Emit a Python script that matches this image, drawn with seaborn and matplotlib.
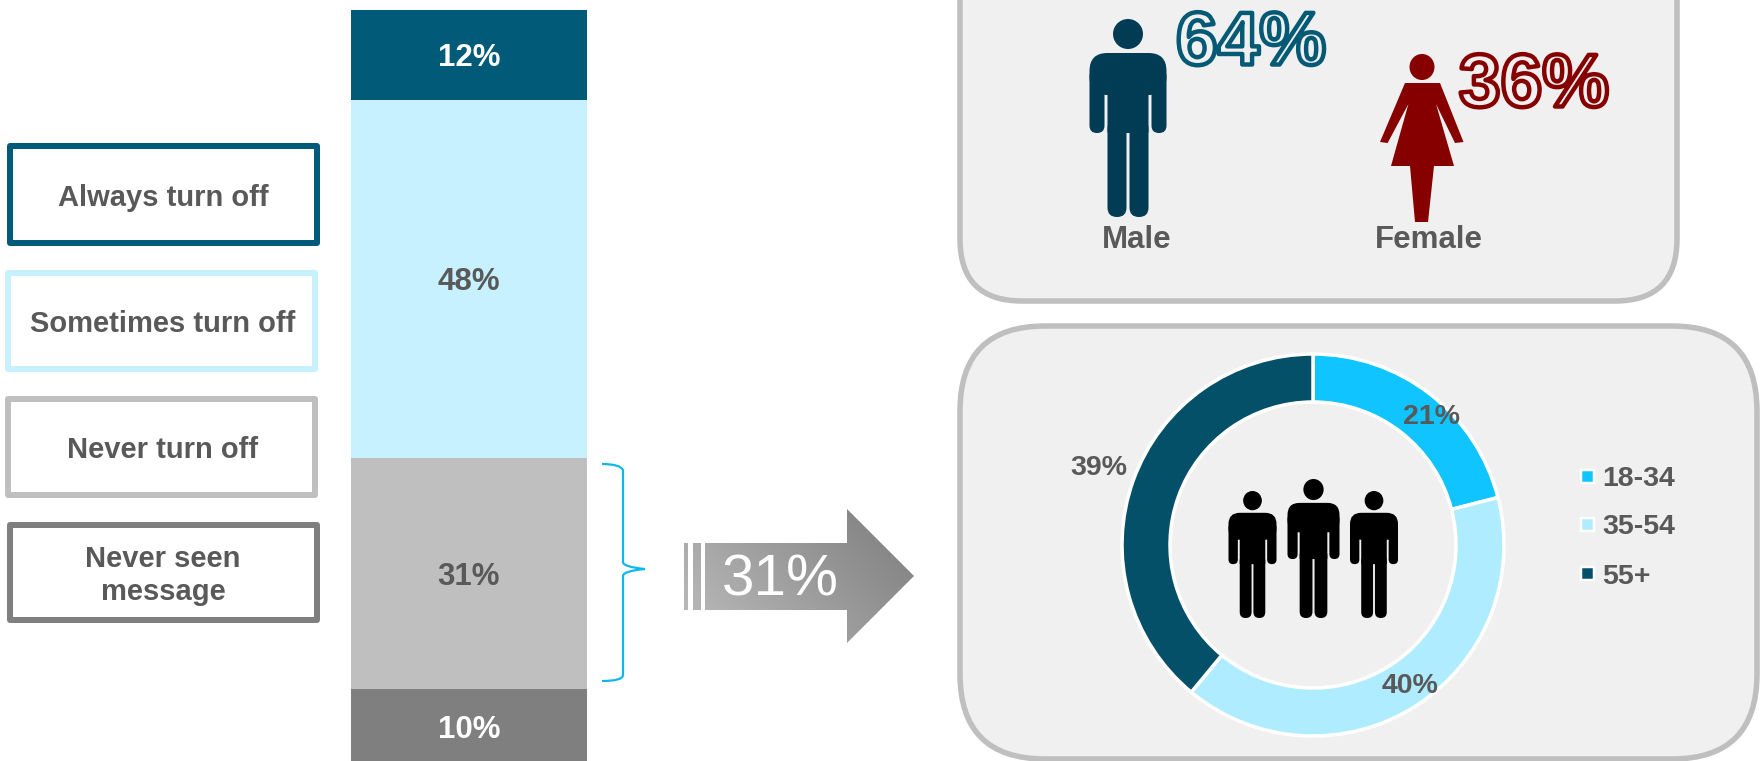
import numpy as np
import matplotlib
matplotlib.use("Agg")
import matplotlib.pyplot as plt
import seaborn as sns
from matplotlib.colors import LinearSegmentedColormap
from matplotlib.patches import Ellipse, FancyBboxPatch, PathPatch, Polygon, Rectangle
from matplotlib.path import Path
import matplotlib.patheffects as pe

# stacked bar
answers = ["Always turn off", "Sometimes turn off", "Never turn off", "Never seen\nmessage"]
answer_vals = [12, 48, 31, 10]
answer_cols = ["#005A78", "#C7F1FF", "#BFBFBF", "#7F7F7F"]
answer_txt = ["white", "#595959", "#595959", "white"]

# gender
gender_labels = ["Male", "Female"]
gender_vals = [64, 36]

# age donut
age_labels = ["18-34", "35-54", "55+"]
age_vals = [21, 40, 39]
age_cols = ["#0FC4FF", "#B0ECFF", "#045069"]

callout_val = 31

GREY = "#595959"
W, H = 1761, 761
PX = 72 / 100  # points per pixel at dpi 100

sns.set_theme(style="white")
plt.rcParams["font.family"] = ["Liberation Sans", "DejaVu Sans"]

fig = plt.figure(figsize=(W / 100, H / 100), dpi=100, facecolor="white")


def px_axes(x0, y0, x1, y1, z):
    # axes placed by its pixel box, y measured from the top
    return fig.add_axes([x0 / W, 1 - y1 / H, (x1 - x0) / W, (y1 - y0) / H], zorder=z)


bg = px_axes(0, 0, W, H, 0)
fg = px_axes(0, 0, W, H, 5)
for a in (bg, fg):
    a.set_xlim(0, W)
    a.set_ylim(H, 0)
    a.axis("off")
fg.patch.set_alpha(0)


def rbox(ax, x0, y0, x1, y1, r, **kw):
    p = FancyBboxPatch((x0 + r, y0 + r), x1 - x0 - 2 * r, y1 - y0 - 2 * r,
                       boxstyle=f"round,pad={r},rounding_size={r}", **kw)
    ax.add_patch(p)
    return p


def man(ax, cx, top, bottom, width, col):
    # stick figure, drawn on a 77x198 unit grid
    sx = width / 77.
    sy = (bottom - top) / 198.

    def part(x0, y0, x1, y1, r):
        rbox(ax, cx + x0 * sx, top + y0 * sy, cx + x1 * sx, top + y1 * sy, r * sx, fc=col, lw=0)

    ax.add_patch(Ellipse((cx, top + 15 * sy), 30 * sx, 30 * sy, fc=col, lw=0))
    part(-38.5, 34, 38.5, 76, 18)
    part(-38.5, 50, -23.5, 114, 7.4)
    part(23.5, 50, 38.5, 114, 7.4)
    part(-20.5, 40, 20.5, 114, 1)
    part(-20.5, 100, -1.5, 198, 9.4)
    part(1.5, 100, 20.5, 198, 9.4)


def woman(ax, cx, top, bottom, col):
    ax.add_patch(Ellipse((cx, top + 13), 25, 26, fc=col, lw=0))
    y = top
    ax.add_patch(Polygon([(cx - 17, y + 29), (cx + 18, y + 29), (cx + 41.5, y + 88), (cx + 33, y + 89),
                          (cx + 14, y + 50), (cx + 32, y + 112), (cx - 31, y + 112), (cx - 13.6, y + 50),
                          (cx - 34.4, y + 89), (cx - 42, y + 88)], fc=col, lw=0))
    ax.add_patch(Polygon([(cx - 12, y + 112), (cx + 12, y + 112), (cx + 6, bottom), (cx - 7, bottom)],
                         fc=col, lw=0))


# left legend boxes
box_y = [(143, 246), (270, 372), (396, 498), (522, 623)]
box_x = [(10, 317), (8, 315), (8, 315), (10, 317)]
for name, col, ys, xs in zip(answers, answer_cols, box_y, box_x):
    bg.add_patch(Rectangle((xs[0], ys[0] + 3), xs[1] - xs[0], ys[1] - ys[0] - 6, fc="white", ec=col,
                           lw=6 * PX, joinstyle="round"))
    fg.text(163, (ys[0] + ys[1]) / 2 + 3, name, ha="center", va="center", fontsize=21,
            fontweight="bold", color=GREY, linespacing=1.24)

# stacked bar, tallest cumulative first so the shorter ones sit on top
bar_ax = px_axes(351, 10, 587, 764, 1)
tops = np.cumsum(answer_vals)
for top_val, col in list(zip(tops, answer_cols))[::-1]:
    sns.barplot(x=[0], y=[top_val], color=col, saturation=1, width=1, linewidth=0, ax=bar_ax)
bar_ax.set_xlim(-0.5, 0.5)
bar_ax.set_ylim(tops[-1], 0)
bar_ax.axis("off")
for v, t, c in zip(answer_vals, tops, answer_txt):
    bar_ax.annotate(f"{v}%", (0, t - v / 2), xytext=(0, -2.6), textcoords="offset points", ha="center", va="center",
                    fontsize=22.5, fontweight="bold", color=c)

# brace
brace = Path([(602, 464), (620, 464), (623, 470), (623, 562), (623, 567), (645, 569),
              (623, 571), (623, 576), (623, 675), (623, 681), (602, 681)],
             [Path.MOVETO, Path.CURVE3, Path.CURVE3, Path.LINETO, Path.CURVE3, Path.CURVE3,
              Path.CURVE3, Path.CURVE3, Path.LINETO, Path.CURVE3, Path.CURVE3])
bg.add_patch(PathPatch(brace, fc="none", ec="#0DB7ED", lw=2.2 * PX))

# gradient arrow with stripes
arrow = Path([(705, 543), (847, 543), (847, 509), (914, 576), (847, 643), (847, 610), (705, 610), (705, 543)], closed=True)
st1 = Path([(684, 543), (688, 543), (688, 610), (684, 610), (684, 543)], closed=True)
st2 = Path([(693, 543), (701, 543), (701, 610), (693, 610), (693, 543)], closed=True)
shape = PathPatch(Path.make_compound_path(arrow, st1, st2), transform=bg.transData, fc="none", lw=0)
bg.add_patch(shape)
gx, gy = np.meshgrid(np.linspace(0, 1, 120), np.linspace(0, 1, 80))
grad = (gx + (1 - gy) * 0.55) / 1.55
cmap = LinearSegmentedColormap.from_list("arr", ["#BDBDBD", "#7C7C7C"])
im = bg.imshow(grad, extent=(684, 914, 643, 509), cmap=cmap, aspect="auto", zorder=1)
im.set_clip_path(shape)
bg.set_xlim(0, W)
bg.set_ylim(H, 0)
fg.text(780, 580, f"{callout_val}%", ha="center", va="center", fontsize=42, color="white")

# panels
rbox(bg, 960, -70, 1677, 301, 62, fc="#F0F0F0", ec="#BFBFBF", lw=5.5 * PX)
rbox(bg, 960, 326, 1757, 759, 85, fc="#F0F0F0", ec="#BFBFBF", lw=5.5 * PX)

# gender panel
man(fg, 1128, 19, 217, 77, "#023B54")
woman(fg, 1422, 54, 222, "#860000")
fg.text(1137, 240.5, gender_labels[0], ha="center", va="center", fontsize=22.5, fontweight="bold", color=GREY)
fg.text(1429, 240.5, gender_labels[1], ha="center", va="center", fontsize=22.5, fontweight="bold", color=GREY)
for v, (x, y), c in zip(gender_vals, [(1251, 45), (1534, 87)], ["#045A75", "#860000"]):
    fg.text(x, y, f"{v}%", ha="center", va="center", fontsize=54, color="#F0F0F0", fontweight="bold",
            path_effects=[pe.Stroke(linewidth=3.2, foreground=c)])

# donut
cx, cy, r = 1313, 545, 191
pie_ax = px_axes(cx - r, cy - r, cx + r, cy + r, 2)
pie_ax.pie(age_vals, colors=age_cols, startangle=90, counterclock=False, radius=1,
           wedgeprops=dict(width=48 / r, edgecolor="white", linewidth=3.5 * PX))
pie_ax.set_xlim(-1, 1)
pie_ax.set_ylim(-1, 1)
pie_ax.patch.set_alpha(0)

for v, (x, y) in zip(age_vals, [(1432, 417), (1410, 686), (1099, 468)]):
    fg.text(x, y, f"{v}%", ha="center", va="center", fontsize=20.5, fontweight="bold", color=GREY)

# three people in the hole
man(fg, 1252.5, 491, 618, 48, "black")
man(fg, 1313.5, 479, 618, 52, "black")
man(fg, 1374, 491, 618, 48, "black")

# age legend
for name, col, y in zip(age_labels, age_cols, [477, 525, 574]):
    fg.add_patch(Rectangle((1581, y - 7), 13, 13, fc=col, ec="white", lw=2.5 * PX))
    fg.text(1602, y + 2.5, name, ha="left", va="center", fontsize=20.5, fontweight="bold", color=GREY)

fig.savefig("out.png", dpi=100)
